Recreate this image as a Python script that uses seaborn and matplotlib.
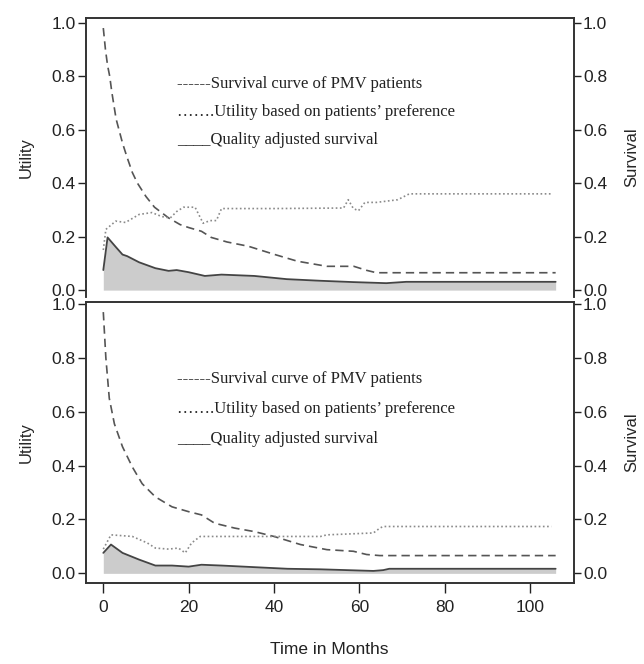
import seaborn as sns
import pandas as pd
import matplotlib.pyplot as plt

sns.set_style("ticks")
plt.rcParams['font.family'] = ['Liberation Sans', 'DejaVu Sans']

# top panel
surv_x1 = [0, 0.5, 1, 1.5, 2, 3, 4.5, 5.5, 6.8, 8, 10, 12, 15.3, 18, 20, 23, 25.3, 29, 34, 40, 45.5, 52.4, 58.7, 61.7, 64, 70, 80, 90, 100, 106]
surv_y1 = [0.98, 0.90, 0.84, 0.80, 0.74, 0.64, 0.55, 0.50, 0.44, 0.40, 0.35, 0.31, 0.27, 0.245, 0.234, 0.22, 0.197, 0.18, 0.164, 0.134, 0.108, 0.089, 0.089, 0.074, 0.065, 0.065, 0.065, 0.065, 0.065, 0.065]
util_x1 = [0, 0.6, 2.9, 5.2, 8.4, 11.4, 13.7, 15.7, 17.2, 18.8, 21.5, 23.4, 25, 26.5, 27.7, 40, 56.3, 57.4, 58.6, 59.8, 61.3, 64, 69, 71.7, 90, 105]
util_y1 = [0.15, 0.227, 0.258, 0.253, 0.283, 0.29, 0.275, 0.27, 0.294, 0.31, 0.31, 0.25, 0.26, 0.26, 0.305, 0.305, 0.307, 0.338, 0.305, 0.297, 0.328, 0.328, 0.338, 0.36, 0.36, 0.36]
qas_x1 = [0, 1, 3, 4.5, 5.6, 8.4, 12.2, 15.3, 17.2, 20, 23.8, 27.7, 35.4, 43, 50.8, 58.6, 66.3, 71, 80, 90, 100, 106]
qas_y1 = [0.075, 0.197, 0.16, 0.133, 0.127, 0.104, 0.082, 0.072, 0.075, 0.067, 0.053, 0.058, 0.053, 0.041, 0.035, 0.03, 0.026, 0.031, 0.031, 0.031, 0.031, 0.031]

# bottom panel
surv_x2 = [0, 0.6, 1.4, 2.6, 4.5, 6.8, 9.1, 12.2, 16.1, 20, 23, 26.1, 30.8, 35.4, 40, 46.2, 52.4, 58.6, 61.7, 64.8, 70, 80, 90, 100, 106]
surv_y2 = [0.97, 0.80, 0.65, 0.555, 0.47, 0.395, 0.333, 0.284, 0.247, 0.229, 0.217, 0.186, 0.168, 0.155, 0.137, 0.107, 0.088, 0.082, 0.07, 0.066, 0.066, 0.066, 0.066, 0.066, 0.066]
util_x2 = [0, 1.8, 6.8, 10.3, 12.2, 15.3, 17.6, 19.2, 20.7, 22.7, 35, 50.9, 52.4, 63.3, 64.8, 65.6, 80, 105]
util_y2 = [0.09, 0.143, 0.137, 0.113, 0.094, 0.09, 0.094, 0.076, 0.113, 0.137, 0.137, 0.137, 0.143, 0.15, 0.168, 0.174, 0.174, 0.174]
qas_x2 = [0, 1.8, 4.5, 8.4, 12.2, 16.1, 20, 23, 27.7, 35.4, 43.2, 50.9, 63.3, 65.6, 67, 80, 90, 100, 106]
qas_y2 = [0.076, 0.107, 0.076, 0.051, 0.029, 0.029, 0.025, 0.032, 0.029, 0.023, 0.017, 0.015, 0.009, 0.012, 0.017, 0.017, 0.017, 0.017, 0.017]

legend_lines = ["------Survival curve of PMV patients",
                "\u2026\u2026.Utility based on patients\u2019 preference",
                "____Quality adjusted survival"]

panels = [
    (surv_x1, surv_y1, util_x1, util_y1, qas_x1, qas_y1, [0.771, 0.666, 0.561], (-0.027, 1.0176)),
    (surv_x2, surv_y2, util_x2, util_y2, qas_x2, qas_y2, [0.722, 0.610, 0.499], (-0.037, 1.0085)),
]
positions = [[0.1335, 0.5522, 0.7578, 0.4207], [0.1335, 0.1215, 0.7578, 0.4241]]

fig = plt.figure(figsize=(6.44, 6.64), dpi=100)
ticks = [0, 0.2, 0.4, 0.6, 0.8, 1.0]

for i, (sx, sy, ux, uy, qx, qy, ty, ylim) in enumerate(panels):
    ax = fig.add_axes(positions[i])
    ax.fill_between(qx, 0, qy, color="#cccccc", lw=0)
    sns.lineplot(x=sx, y=sy, ax=ax, color="#555555", lw=1.2, linestyle=(0, (5, 3)))
    sns.lineplot(x=ux, y=uy, ax=ax, color="#8a8a8a", lw=1.2, linestyle=(0, (1, 1.5)))
    sns.lineplot(x=qx, y=qy, ax=ax, color="#444444", lw=1.3)
    ax.set_xlim(-4.06, 110.3)
    ax.set_ylim(*ylim)
    ax.set_yticks(ticks)
    ax.set_yticklabels([f"{t:.1f}" for t in ticks], fontsize=12.5)
    ax.tick_params(direction="out", length=6, width=1, pad=1.5, colors="#222222")
    ax.set_ylabel("Utility", fontsize=12, labelpad=13)
    for t, yy in zip(legend_lines, ty):
        ax.text(17.3, yy, t, family=["Liberation Serif", "DejaVu Serif"], fontsize=12,
                va="center", ha="left", color="#222222")
    for sp in ax.spines.values():
        sp.set_color("#333333")
        sp.set_linewidth(1.2)
    ax2 = ax.twinx()
    ax2.set_ylim(*ylim)
    ax2.set_yticks(ticks)
    ax2.set_yticklabels([f"{t:.1f}" for t in ticks], fontsize=12.5)
    ax2.tick_params(direction="out", length=5, width=1, pad=1.5, colors="#222222")
    ax2.set_ylabel("Survival", fontsize=12, labelpad=12)
    for sp in ax2.spines.values():
        sp.set_color("#333333")
        sp.set_linewidth(1.2)
    if i == 0:
        ax.set_xticks([])
        ax.spines["bottom"].set_visible(False)
        ax2.spines["bottom"].set_visible(False)
    else:
        ax.set_xticks([0, 20, 40, 60, 80, 100])
        ax.set_xticklabels(["0", "20", "40", "60", "80", "100"], fontsize=12.5)
        ax.tick_params(axis="x", length=7, pad=5)

fig.text(329 / 644, 1 - 650 / 664, "Time in Months", ha="center", va="center", fontsize=12.5, color="#222222")

fig.savefig("out.png", dpi=100)
